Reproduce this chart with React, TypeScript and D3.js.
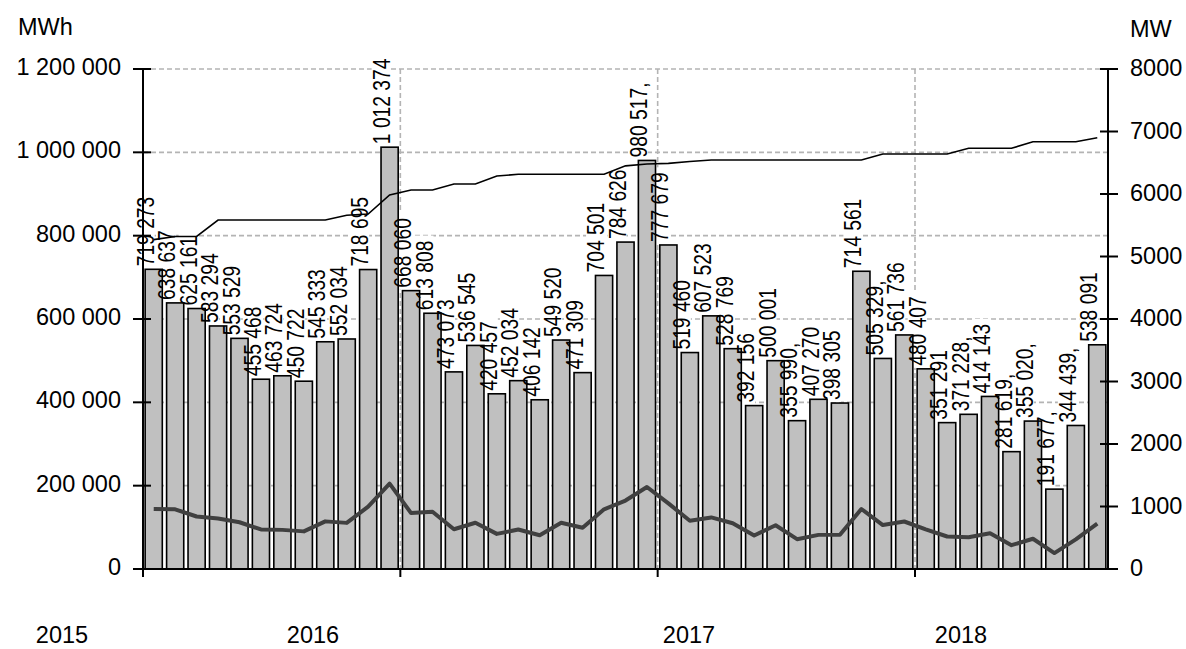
import React from "react";
import * as d3 from "d3";

const categories = [
  "01.2015","02.2015","03.2015","04.2015","05.2015","06.2015","07.2015","08.2015","09.2015","10.2015","11.2015","12.2015",
  "01.2016","02.2016","03.2016","04.2016","05.2016","06.2016","07.2016","08.2016","09.2016","10.2016","11.2016","12.2016",
  "01.2017","02.2017","03.2017","04.2017","05.2017","06.2017","07.2017","08.2017","09.2017","10.2017","11.2017","12.2017",
  "01.2018","02.2018","03.2018","04.2018","05.2018","06.2018","07.2018","08.2018","09.2018",
];

// Monthly energy, MWh (bars, left axis)
const energyMWh = [
  719273, 638637, 625161, 583294, 553529, 455468, 463724, 450722, 545333, 552034, 718695, 1012374,
  668060, 613808, 473073, 536545, 420457, 452034, 406142, 549520, 471309, 704501, 784626, 980517,
  777679, 519460, 607523, 528769, 392156, 500001, 355990, 407270, 398305, 714561, 505329, 561736,
  480407, 351291, 371228, 414143, 281619, 355020, 191677, 344439, 538091,
];

// Trailing marks seen on some data labels
const labelSuffix = [
  "", "", "", "", "", "", "", "", "", "", "", "",
  "", "", "", "", "", "", "", "", "", "", "", ",",
  "", "", "", "", "", "", ",", "", "", "", ",", "",
  "", "", ",", "", ",", ",", ",", ",", "",
];

// Installed capacity, MW (thin line, right axis)
const capacityMW = [
  5270, 5320, 5320, 5584, 5584, 5584, 5584, 5584, 5584, 5660, 5680, 5984,
  6064, 6064, 6160, 6160, 6288, 6315, 6315, 6315, 6315, 6315, 6450, 6480,
  6490, 6520, 6544, 6544, 6544, 6544, 6544, 6544, 6544, 6544, 6640, 6640,
  6640, 6640, 6731, 6731, 6731, 6837, 6837, 6837, 6901,
];

// Average power, MW (thick line, right axis)
const avgPowerMW = [
  960, 955, 840, 808, 748, 633, 626, 602, 762, 738, 998, 1365,
  895, 915, 636, 740, 562, 632, 540, 740, 660, 955, 1095, 1312,
  1050, 773, 825, 732, 535, 700, 477, 546, 548, 960, 703, 760,
  635, 520, 508, 573, 381, 484, 255, 475, 727,
];

const leftTicks = [0, 200000, 400000, 600000, 800000, 1000000, 1200000];
const rightTicks = [0, 1000, 2000, 3000, 4000, 5000, 6000, 7000, 8000];
const years = ["2015", "2016", "2017", "2018"];
const yearLabelX = [62, 313, 689, 961];

const W = 1186;
const H = 649;
const L = 143;
const R = 1108;
const T = 69;
const B = 569;
const FONT = "'Liberation Sans', Arial, Helvetica, sans-serif";
const FS = 23.5;

const fmt = (v: number) => d3.format(",")(v).replace(/,/g, " ");

function textLen(s: string, fs: number) {
  let w = 0;
  for (const c of s) {
    if (c === " " || c === "," || c === ".") w += 0.278;
    else w += 0.556;
  }
  return w * fs;
}

export default function App() {
  const idx = categories.map((_, i) => i);
  const x = d3.scaleBand<number>().domain(idx).range([L, R]).paddingInner(0.2).paddingOuter(0.1);
  const step = x.step();
  const yL = d3.scaleLinear().domain([0, 1200000]).range([B, T]);
  const yR = d3.scaleLinear().domain([0, 8000]).range([B, T]);
  const cx = (i: number) => (x(i) as number) + x.bandwidth() / 2;

  const capLine = d3.line<number>().x((_, i) => cx(i)).y((d) => yR(d))(capacityMW) || "";
  const avgLine = d3.line<number>().x((_, i) => cx(i)).y((d) => yR(d))(avgPowerMW) || "";

  const boundaries = [12, 24, 36].map((k) => L + k * step);
  const condense = 0.82;

  const labels = energyMWh.map((v, i) => {
    const s = fmt(v) + labelSuffix[i];
    const len = textLen(s, FS) * condense;
    const bx = cx(i);
    const by = yL(v) - 3;
    return { s, len, bx, by };
  });

  return (
    <svg width={W} height={H} style={{ position: "absolute", left: 0, top: 0, background: "#fff" }} fontFamily={FONT}>
      <rect x={0} y={0} width={W} height={H} fill="#fff" />
      {/* horizontal gridlines */}
      {leftTicks.filter((t) => t > 0).map((t) => (
        <line key={"hg" + t} x1={L} x2={R} y1={yL(t)} y2={yL(t)} stroke="#b4b4b4" strokeWidth={1.6} strokeDasharray="5,3" />
      ))}
      {/* vertical gridlines */}
      {boundaries.map((bx, k) => (
        <line key={"vg" + k} x1={bx} x2={bx} y1={T} y2={B} stroke="#b4b4b4" strokeWidth={1.6} strokeDasharray="5,3" />
      ))}
      {/* label backgrounds */}
      {labels.map((l, i) => (
        <rect key={"lb" + i} x={l.bx - 18} y={l.by - l.len - 5} width={19} height={l.len + 7} fill="#fff" />
      ))}
      {/* bars */}
      {energyMWh.map((v, i) => (
        <rect key={"b" + i} x={x(i)} y={yL(v)} width={x.bandwidth()} height={B - yL(v)} fill="#c0c0c0" stroke="#000" strokeWidth={1.6} />
      ))}
      {/* data labels */}
      {labels.map((l, i) => (
        <text key={"lt" + i} transform={`translate(${l.bx},${l.by}) rotate(-90) scale(${condense},1)`} fontSize={FS} fill="#000">
          {l.s}
        </text>
      ))}
      {/* lines */}
      <path d={avgLine} fill="none" stroke="#404040" strokeWidth={4} strokeLinejoin="round" />
      <path d={capLine} fill="none" stroke="#000" strokeWidth={1.6} />
      {/* axes */}
      <line x1={L} x2={L} y1={T} y2={B + 8} stroke="#000" strokeWidth={2} />
      <line x1={R} x2={R} y1={T} y2={B} stroke="#000" strokeWidth={2} />
      <line x1={L} x2={R} y1={B} y2={B} stroke="#000" strokeWidth={2} />
      {boundaries.map((bx, k) => (
        <line key={"xt" + k} x1={bx} x2={bx} y1={B} y2={B + 8} stroke="#000" strokeWidth={2} />
      ))}
      {leftTicks.map((t) => (
        <g key={"lt" + t}>
          <line x1={L - 10} x2={L + 8} y1={yL(t)} y2={yL(t)} stroke="#000" strokeWidth={2} />
          <text x={121} y={yL(t) + 6} textAnchor="end" fontSize={FS} fill="#000">{fmt(t)}</text>
        </g>
      ))}
      {rightTicks.map((t) => (
        <g key={"rt" + t}>
          <line x1={R - 8} x2={R + 10} y1={yR(t)} y2={yR(t)} stroke="#000" strokeWidth={2} />
          <text x={1130} y={yR(t) + 7} textAnchor="start" fontSize={FS} fill="#000">{String(t)}</text>
        </g>
      ))}
      <text x={18} y={35} fontSize={FS} fill="#000">MWh</text>
      <text x={1130} y={37} fontSize={FS} fill="#000">MW</text>
      {years.map((yv, k) => (
        <text key={yv} x={yearLabelX[k]} y={643} textAnchor="middle" fontSize={FS} fill="#000">{yv}</text>
      ))}
    </svg>
  );
}
